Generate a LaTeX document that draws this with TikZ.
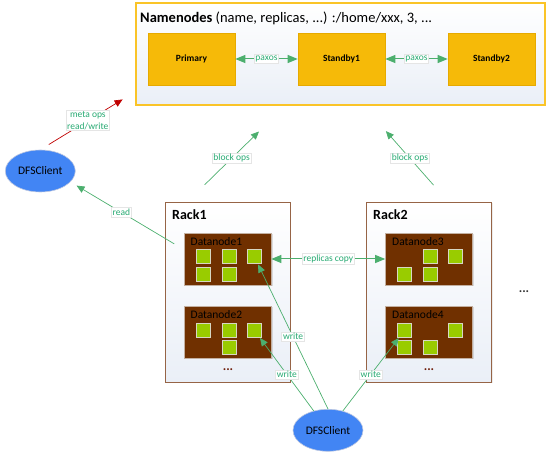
\documentclass[tikz,border=0pt]{standalone}
\usepackage{fontspec}
\setmainfont{Carlito}
\usetikzlibrary{arrows.meta,shadows,shapes.geometric}

\definecolor{nngold}{RGB}{246,186,8}
\definecolor{nnedge}{RGB}{250,196,40}
\definecolor{dnbrown}{RGB}{112,48,0}
\definecolor{blkgreen}{RGB}{153,204,0}
\definecolor{linkgreen}{RGB}{76,175,110}
\definecolor{lblgreen}{RGB}{40,170,115}
\definecolor{metared}{RGB}{192,0,0}
\definecolor{clientblue}{RGB}{66,133,244}
\definecolor{rackedge}{RGB}{150,100,70}
\definecolor{panel}{RGB}{234,239,247}
\definecolor{dotred}{RGB}{110,30,10}

\begin{document}
\begin{tikzpicture}[x=10pt,y=10pt]
    \tikzstyle{every node}+=[inner sep=0pt]
    \tikzstyle{frame}=[draw=nnedge, line width=1.2pt, top color=white, bottom color=panel, drop shadow={opacity=0.15,shadow xshift=1pt,shadow yshift=-1pt}]
    \tikzstyle{namebox}=[draw={rgb,255:red,230;green,170;blue,0}, line width=0.6pt, fill=nngold, minimum width=87pt, minimum height=52pt, font=\fontsize{9.5}{11}\selectfont\bfseries, drop shadow={opacity=0.2,shadow xshift=1pt,shadow yshift=-1pt}]
    \tikzstyle{rack}=[draw=rackedge, line width=0.9pt, top color=white, bottom color=panel, minimum width=125pt, minimum height=180pt, drop shadow={opacity=0.15,shadow xshift=1pt,shadow yshift=-1pt}]
    \tikzstyle{racklbl}=[anchor=west, font=\fontsize{14}{16}\selectfont\bfseries]
    \tikzstyle{dnbox}=[draw={rgb,255:red,195;green,175;blue,160}, line width=0.6pt, fill=dnbrown, minimum width=87pt, minimum height=52pt, drop shadow={opacity=0.25,shadow xshift=1.5pt,shadow yshift=-1.5pt}]
    \tikzstyle{dnlbl}=[anchor=west, font=\fontsize{11.5}{13}\selectfont]
    \tikzstyle{blk}=[draw={rgb,255:red,215;green,215;blue,195}, line width=1pt, fill=blkgreen, minimum size=14pt]
    \tikzstyle{client}=[ellipse, draw={rgb,255:red,190;green,200;blue,225}, line width=0.6pt, fill=clientblue, minimum width=70pt, minimum height=42pt, font=\fontsize{11.5}{13}\selectfont]
    \tikzstyle{lbl}=[fill=white, draw=gray!20, text=lblgreen, inner sep=1.2pt, font=\fontsize{9.5}{11}\selectfont]
    \tikzstyle{link}=[draw=linkgreen, line width=0.7pt, -{Triangle[length=8pt,width=7pt]}]
    \tikzstyle{dbllink}=[draw=linkgreen, line width=1pt, {Triangle[length=10pt,width=8pt]}-{Triangle[length=10pt,width=8pt]}]
    \tikzstyle{metalink}=[draw=metared, line width=0.7pt, -{Triangle[length=8pt,width=7pt]}]
    \tikzstyle{dots}=[text=dotred, font=\fontsize{13}{15}\selectfont\bfseries]
    \useasboundingbox (0,0) rectangle (56,-47);
    % namenodes
    \node [frame, minimum width=409pt, minimum height=102pt] (nnbox) at (34.05,-5.4) {};
    \node [anchor=west, font=\fontsize{14.5}{16}\selectfont] (nntitle) at (14.0,-1.8) {\textbf{Namenodes} (name, replicas, ...) :/home/xxx, 3, ...};
    \node [namebox] (primary) at (19.15,-5.9) {Primary};
    \node [namebox] (standby1) at (34.15,-5.9) {Standby1};
    \node [namebox] (standby2) at (49.15,-5.9) {Standby2};
    % racks
    \node [rack] (rack1) at (22.75,-29.2) {};
    \node [rack] (rack2) at (42.9,-29.2) {};
    \node [racklbl] (rack1lbl) at (17.2,-21.5) {Rack1};
    \node [racklbl] (rack2lbl) at (37.3,-21.5) {Rack2};
    \node [dnbox] (dn1) at (22.75,-25.9) {};
    \node [dnbox] (dn2) at (22.75,-33.2) {};
    \node [dnbox] (dn3) at (42.9,-25.9) {};
    \node [dnbox] (dn4) at (42.9,-33.2) {};
    \node [dnlbl] (dn1lbl) at (19.05,-24.15) {Datanode1};
    \node [dnlbl] (dn2lbl) at (19.05,-31.45) {Datanode2};
    \node [dnlbl] (dn3lbl) at (39.2,-24.15) {Datanode3};
    \node [dnlbl] (dn4lbl) at (39.2,-31.45) {Datanode4};
    % blocks
    \node [blk] (b11) at (20.35,-25.7) {};
    \node [blk] (b12) at (22.95,-25.7) {};
    \node [blk] (b13) at (25.45,-25.7) {};
    \node [blk] (b14) at (20.35,-27.5) {};
    \node [blk] (b15) at (22.95,-27.5) {};
    \node [blk] (b21) at (20.35,-33.05) {};
    \node [blk] (b22) at (22.95,-33.05) {};
    \node [blk] (b23) at (25.45,-33.05) {};
    \node [blk] (b24) at (22.95,-34.8) {};
    \node [blk] (b31) at (43.0,-25.7) {};
    \node [blk] (b32) at (45.5,-25.7) {};
    \node [blk] (b33) at (40.45,-27.5) {};
    \node [blk] (b34) at (43.0,-27.5) {};
    \node [blk] (b41) at (40.45,-33.05) {};
    \node [blk] (b42) at (45.5,-33.05) {};
    \node [blk] (b43) at (40.45,-34.8) {};
    \node [blk] (b44) at (43.0,-34.8) {};
    \node [dots] (rack1dots) at (22.8,-37.0) {...};
    \node [dots] (rack2dots) at (42.9,-37.0) {...};
    \node [dots, text=black!80] (moredots) at (52.4,-29.2) {...};
    % clients
    \node [client] (client1) at (4.03,-17.1) {DFSClient};
    \node [client] (client2) at (32.8,-43.03) {DFSClient};
    % links
    \draw [dbllink] (primary) -- node [lbl] {paxos} (standby1);
    \draw [dbllink] (standby1) -- node [lbl] {paxos} (standby2);
    \draw [dbllink] (dn1) -- node [lbl] {replicas copy} (dn3);
    \draw [metalink, shorten <=10pt, shorten >=15pt] (client1.north) -- node [lbl, align=center, font=\fontsize{9.5}{11.5}\selectfont] {meta ops\\read/write} ([yshift=14pt]nnbox.south west);
    \draw [link, shorten <=24pt, shorten >=37pt] ([xshift=23pt]rack1.north west) -- node [lbl, pos=0.45] {block ops} ([xshift=150pt]nnbox.south west);
    \draw [link, shorten <=22pt, shorten >=34pt] ([xshift=82pt]rack2.north west) -- node [lbl, pos=0.45] {block ops} ([xshift=228pt]nnbox.south west);
    \draw [link, shorten <=11pt, shorten >=7pt] ([yshift=9.5pt]dn1.west) -- node [lbl, pos=0.55] {read} (client1.-20);
    \draw [link] (client2) -- node [lbl] {write} (b23);
    \draw [link] (client2.north) -- node [lbl] {write} (b13);
    \draw [link] (client2) -- node [lbl] {write} (b41);
\end{tikzpicture}
\end{document}
